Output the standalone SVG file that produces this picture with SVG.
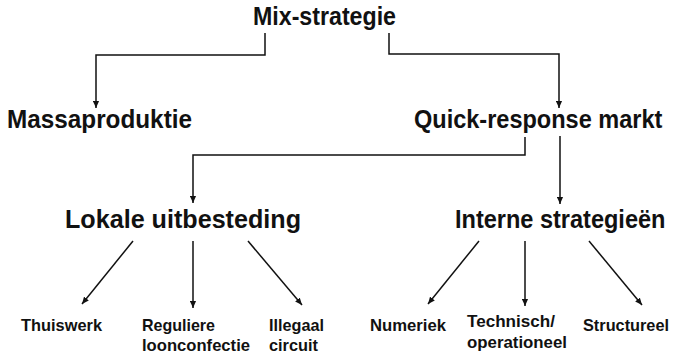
<svg xmlns="http://www.w3.org/2000/svg" width="674" height="355" viewBox="0 0 674 355">
  <style>
    .lvl { font-family: "Liberation Sans", Arial, sans-serif; font-weight: bold; font-size: 26px; fill: #111; }
    .leaf { font-family: "Liberation Sans", Arial, sans-serif; font-weight: bold; font-size: 17px; fill: #111; }
    .wire { fill: none; stroke: #111; stroke-width: 1.5; }
  </style>
  <defs>
    <marker id="arrow" viewBox="0 0 8 8" refX="8" refY="4" markerWidth="7" markerHeight="7" markerUnits="userSpaceOnUse" orient="auto">
      <path d="M0,0.5 L8,4 L0,7.5 Z" fill="#111"/>
    </marker>
  </defs>
  <rect width="674" height="355" fill="#fff"/>

  <g id="connectors">
    <!-- top split -->
    <path class="wire" d="M265,33 V55 H96 V108" marker-end="url(#arrow)"/>
    <path class="wire" d="M389,33 V54 H559 V108" marker-end="url(#arrow)"/>
    <!-- quick-response split -->
    <path class="wire" d="M525,137 V155 H193 V203" marker-end="url(#arrow)"/>
    <path class="wire" d="M560,136 V204" marker-end="url(#arrow)"/>
    <!-- lokale uitbesteding branches -->
    <path class="wire" d="M133,241 L82,304" marker-end="url(#arrow)"/>
    <path class="wire" d="M193,241 V308" marker-end="url(#arrow)"/>
    <path class="wire" d="M248,241 L302,305" marker-end="url(#arrow)"/>
    <!-- interne strategieen branches -->
    <path class="wire" d="M479,241 L428,304" marker-end="url(#arrow)"/>
    <path class="wire" d="M525,241 V306" marker-end="url(#arrow)"/>
    <path class="wire" d="M589,241 L642,305" marker-end="url(#arrow)"/>
  </g>

  <g id="mix-strategie">
    <text class="lvl" x="253" y="25" textLength="143" lengthAdjust="spacingAndGlyphs">Mix-strategie</text>
  </g>
  <g id="massaproduktie">
    <text class="lvl" x="7" y="128" textLength="185" lengthAdjust="spacingAndGlyphs">Massaproduktie</text>
  </g>
  <g id="quick-response">
    <!-- condensed horizontally so it fits the right margin -->
    <text class="lvl" transform="translate(414,128) scale(0.905,1)">Quick-response markt</text>
  </g>
  <g id="lokale-uitbesteding">
    <text class="lvl" x="65" y="228" textLength="236" lengthAdjust="spacingAndGlyphs">Lokale uitbesteding</text>
  </g>
  <g id="interne-strategieen">
    <text class="lvl" transform="translate(455,228) scale(0.905,1)">Interne strategieën</text>
  </g>

  <g id="thuiswerk">
    <text class="leaf" x="21" y="331" textLength="81" lengthAdjust="spacingAndGlyphs">Thuiswerk</text>
  </g>
  <g id="reguliere-loonconfectie">
    <text class="leaf" x="142" y="331" textLength="73" lengthAdjust="spacingAndGlyphs">Reguliere</text>
    <text class="leaf" x="142" y="351" textLength="108" lengthAdjust="spacingAndGlyphs">loonconfectie</text>
  </g>
  <g id="illegaal-circuit">
    <text class="leaf" x="269" y="331" textLength="55" lengthAdjust="spacingAndGlyphs">Illegaal</text>
    <text class="leaf" x="269" y="351" textLength="49" lengthAdjust="spacingAndGlyphs">circuit</text>
  </g>
  <g id="numeriek">
    <text class="leaf" x="370" y="331" textLength="76" lengthAdjust="spacingAndGlyphs">Numeriek</text>
  </g>
  <g id="technisch-operationeel">
    <text class="leaf" x="467" y="327" textLength="88" lengthAdjust="spacingAndGlyphs">Technisch/</text>
    <text class="leaf" x="467" y="348" textLength="100" lengthAdjust="spacingAndGlyphs">operationeel</text>
  </g>
  <g id="structureel">
    <text class="leaf" x="583" y="331" textLength="86" lengthAdjust="spacingAndGlyphs">Structureel</text>
  </g>
</svg>
